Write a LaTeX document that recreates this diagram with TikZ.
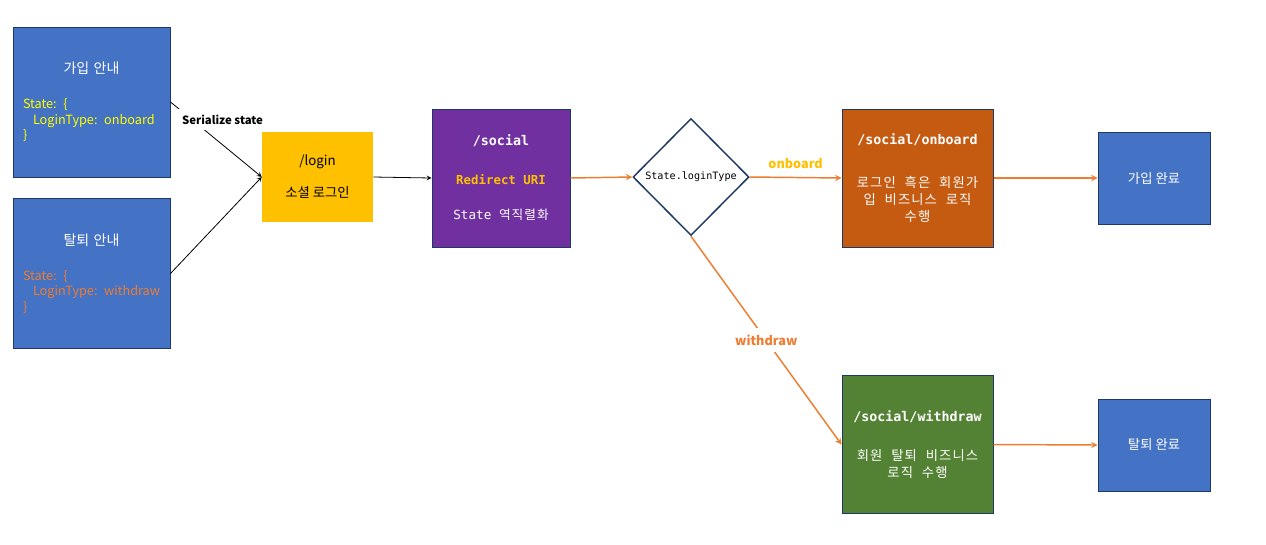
\documentclass[tikz,border=0pt]{standalone}
\usepackage{fontspec}
\setmainfont{Noto Sans CJK KR}
\newfontfamily\monofont{DejaVu Sans Mono}
\newfontfamily\krmono{Noto Sans CJK KR}[LetterSpace=8,WordSpace=2.2]
\usetikzlibrary{shapes.geometric}

\definecolor{boxblue}{HTML}{4472C4}
\definecolor{boxnavy}{HTML}{1F3864}
\definecolor{loginyellow}{HTML}{FFC000}
\definecolor{socialpurple}{HTML}{7030A0}
\definecolor{onboardorange}{HTML}{C55A11}
\definecolor{withdrawgreen}{HTML}{548235}
\definecolor{flowline}{HTML}{ED7D31}
\definecolor{codeyellow}{HTML}{FFFF00}

\begin{document}
\begin{tikzpicture}[x=0.75pt,y=-0.75pt,>=stealth,
  infobox/.style={draw=boxnavy,line width=0.75pt,fill=boxblue,text=white,
    minimum height=112.5pt,text width=102.75pt,inner xsep=7.5pt,
    font=\fontsize{10}{11.6}\selectfont},
  donebox/.style={draw=boxnavy,line width=0.75pt,fill=boxblue,text=white,
    minimum width=84pt,minimum height=69pt,font=\fontsize{10}{12}\selectfont},
  routebox/.style={draw=boxnavy,line width=0.75pt,text=white,align=center,
    minimum width=103.5pt,minimum height=103.5pt,inner sep=2pt,
    font=\fontsize{10}{12.75}\selectfont},
  flow/.style={->,draw=flowline,line width=1.1pt},
  plain/.style={->,draw=black,line width=0.6pt}]
  \useasboundingbox (0,0) rectangle (1266,544);

  % start pages
  \node [infobox] (joinguide) at (91.5,102) {%
    \centering\fontsize{10.5}{11.6}\selectfont 가입 안내\par\vspace{14.4pt}
    \raggedright\fontsize{9.5}{11.6}\selectfont\color{codeyellow}%
    State: \{\par\mbox{\hspace*{7.5pt}LoginType: onboard}\par\}};
  \node [infobox] (leaveguide) at (91.5,273.5) {%
    \centering\fontsize{10.5}{11.6}\selectfont 탈퇴 안내\par\vspace{14.4pt}
    \raggedright\fontsize{9.5}{11.6}\selectfont\color{flowline}%
    State: \{\par\mbox{\hspace*{7.5pt}LoginType: withdraw}\par\}};

  \node [fill=loginyellow,minimum width=83.25pt,minimum height=67.5pt,
    align=center,font=\fontsize{10}{12}\selectfont] (login) at (317.5,177)
    {/login\\[12pt]소셜 로그인};

  \node [routebox,fill=socialpurple] (social) at (501,178)
    {{\monofont\bfseries /social}\\[16pt]
     {\monofont\bfseries\fontsize{9.3}{12}\selectfont\color{loginyellow}Redirect URI}\\[14pt]
     {\fontsize{9.5}{12}\selectfont{\monofont State\ }{\krmono 역직렬화}}};

  \node [diamond,draw=boxnavy,line width=1.1pt,fill=white,inner sep=0pt,
    minimum width=87pt,minimum height=87.75pt] (branch) at (691,177)
    {\monofont\fontsize{7.6}{9}\selectfont State.loginType};

  \node [routebox,fill=onboardorange,minimum width=113.25pt] (onboard) at (917.5,178)
    {{\monofont\bfseries /social/onboard}\\[19pt]
     \krmono 로그인 흑은 회원가\\\krmono 입 비즈니스 로직\\\krmono 수행};
  \node [routebox,fill=withdrawgreen,minimum width=113.25pt] (withdraw) at (917.5,444.5)
    {{\monofont\bfseries /social/withdraw}\\[17pt]
     \krmono 회원 탈퇴 비즈니스\\\krmono 로직 수행};

  \node [donebox] (joindone) at (1154,178) {가입 완료};
  \node [donebox] (leavedone) at (1154,445) {탈퇴 완료};

  % connectors
  \draw [plain] (joinguide.east) -- (login.west);
  \node [fill=white,inner xsep=3pt,inner ysep=4pt,
    font=\bfseries\fontsize{8.5}{10}\selectfont] (serialize) at (222.5,119.5)
    {Serialize state};
  \draw [plain] (leaveguide.east) -- (login.west);
  \draw [plain] (login.east) -- (social.west);
  \draw [flow] (social.east) -- (branch.west);
  \draw [flow] (branch.east) -- node [above=3pt,text=loginyellow,
    font=\bfseries\fontsize{9.5}{11}\selectfont] (onboardlbl) {onboard} (onboard.west);
  \draw [flow] (branch.south) -- node [fill=white,text=flowline,inner ysep=5pt,
    font=\bfseries\fontsize{9.5}{11}\selectfont] (withdrawlbl) {withdraw} (withdraw.west);
  \draw [flow] (onboard.east) -- (joindone.west);
  \draw [flow] (withdraw.east) -- (leavedone.west);
\end{tikzpicture}
\end{document}
